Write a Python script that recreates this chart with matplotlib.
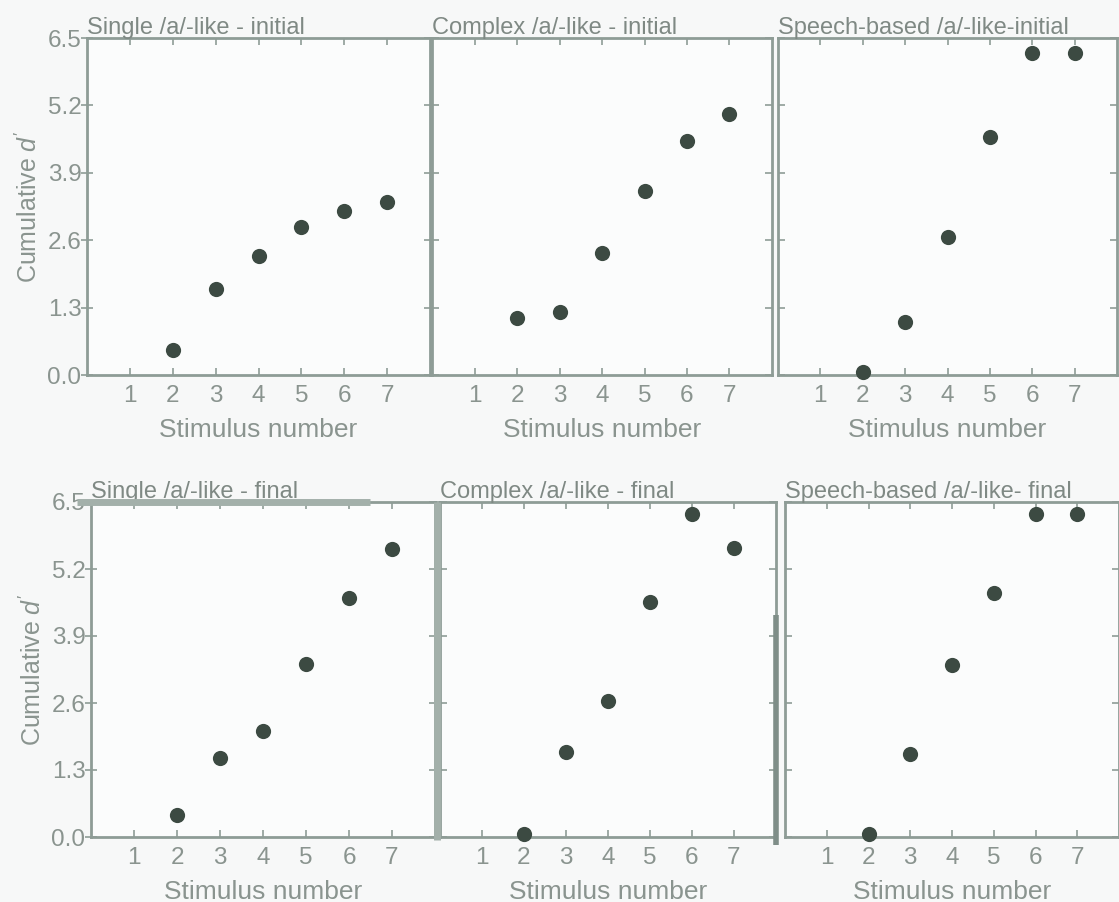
import matplotlib
matplotlib.use("Agg")
import matplotlib.pyplot as plt

plt.rcParams['font.family'] = ['Liberation Sans', 'DejaVu Sans']
plt.rcParams['mathtext.fontset'] = 'custom'
plt.rcParams['mathtext.it'] = 'Liberation Sans:italic'
plt.rcParams['mathtext.rm'] = 'Liberation Sans'

stimulus = [2, 3, 4, 5, 6, 7]
single_initial = [0.48, 1.66, 2.29, 2.85, 3.16, 3.33]
complex_initial = [1.10, 1.21, 2.35, 3.55, 4.51, 5.03]
speech_initial = [0.05, 1.02, 2.66, 4.59, 6.21, 6.21]
single_final = [0.43, 1.53, 2.06, 3.36, 4.64, 5.59]
complex_final = [0.05, 1.65, 2.64, 4.56, 6.27, 5.61]
speech_final = [0.05, 1.61, 3.34, 4.74, 6.27, 6.27]

titles = ["Single /a/-like - initial", "Complex /a/-like - initial", "Speech-based /a/-like-initial",
          "Single /a/-like - final", "Complex /a/-like - final", "Speech-based /a/-like- final"]
series = [single_initial, complex_initial, speech_initial, single_final, complex_final, speech_final]
x_ticks = [1, 2, 3, 4, 5, 6, 7]
y_ticks = [0.0, 1.3, 2.6, 3.9, 5.2, 6.5]
y_ticklabels = ["0.0", "1.3", "2.6", "3.9", "5.2", "6.5"]

W, H = 1119, 902
fig = plt.figure(figsize=(W / 100, H / 100), dpi=100)
fig.patch.set_facecolor('#f7f8f8')

# pixel boxes (left, right, top, bottom)
boxes = [(87, 430, 38, 375), (432, 772, 38, 375), (778, 1117, 38, 375),
         (91, 435, 502, 837), (440, 776, 502, 837), (785, 1119, 502, 837)]

spine_col = '#8e9c96'
text_col = '#8a948f'
dot_col = '#3c4a42'

axes = []
for i, (box, title, vals) in enumerate(zip(boxes, titles, series)):
    l, r, t, b = box
    ax = fig.add_axes([l / W, 1 - b / H, (r - l) / W, (b - t) / H])
    axes.append(ax)
    ax.set_facecolor('#fbfcfc')
    ax.scatter(stimulus, vals, s=120, color=dot_col, zorder=5, clip_on=False, linewidths=0)
    ax.set_xlim(0, 8)
    ax.set_ylim(0, 6.5)
    ax.set_xticks(x_ticks)
    ax.set_xticklabels([str(v) for v in x_ticks])
    ax.set_yticks(y_ticks)
    for sp in ax.spines.values():
        sp.set_color(spine_col)
        sp.set_linewidth(2)
    ax.tick_params(axis='both', direction='in', length=5, width=1.2, color=spine_col,
                   labelcolor=text_col, labelsize=17.5, top=True, right=True, pad=7)
    if i % 3 == 0:
        ax.set_yticklabels(y_ticklabels)
        ax.tick_params(axis='y', direction='inout', length=8, pad=0)
        ax.set_ylabel("Cumulative $d'$", color=text_col, fontsize=18, labelpad=4)
    else:
        ax.set_yticklabels([])
    ax.set_xlabel("Stimulus number", color=text_col, fontsize=19, labelpad=8)
    ax.set_title(title, loc='left', color='#7f8984', fontsize=17, pad=3, x=0.0)

# scan artefacts: heavy frame strokes in the lower row
ax4, ax5 = axes[3], axes[4]
ax4.plot([-0.04, 0.81], [1.0, 1.0], transform=ax4.transAxes, color='#a3b0aa',
         lw=5, clip_on=False, zorder=6, solid_capstyle='butt')
ax5.plot([-0.01, -0.01], [-0.01, 1.0], transform=ax5.transAxes, color='#a3b0aa',
         lw=5, clip_on=False, zorder=6, solid_capstyle='butt')
ax5.plot([1.0, 1.0], [-0.024, 0.663], transform=ax5.transAxes, color='#7f8e88',
         lw=4, clip_on=False, zorder=6, solid_capstyle='butt')

fig.savefig("out.png", dpi=100, facecolor=fig.get_facecolor())
